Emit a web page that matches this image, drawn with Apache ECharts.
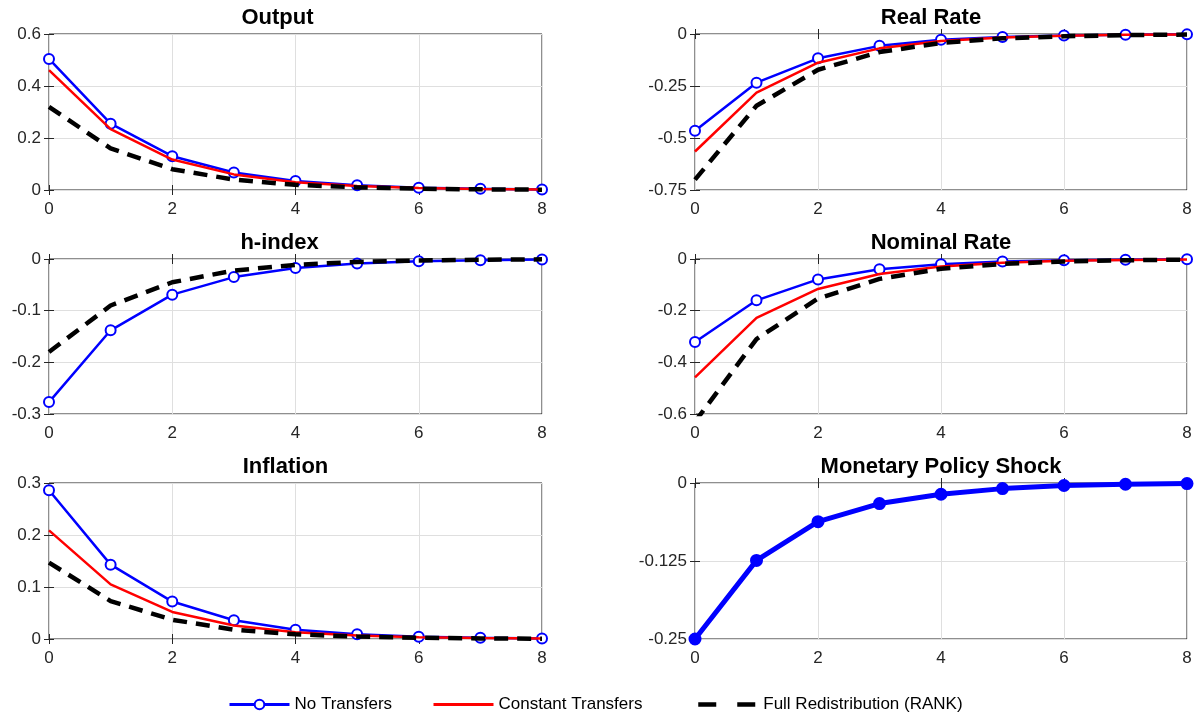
<!DOCTYPE html>
<html>
<head>
<meta charset="utf-8">
<script src="https://cdn.jsdelivr.net/npm/echarts@6/dist/echarts.min.js"></script>
<style>
html,body{margin:0;padding:0;background:#fff;}
#chart{width:1203px;height:715px;}
</style>
</head>
<body>
<div id="chart"></div>
<script>
// ---- data ----
const periods = [0, 1, 2, 3, 4, 5, 6, 7, 8];
const seriesNames = ['No Transfers', 'Constant Transfers', 'Full Redistribution (RANK)'];
const panelTitles = ['Output', 'Real Rate', 'h-index', 'Nominal Rate', 'Inflation', 'Monetary Policy Shock'];

const outputNoT   = [0.504, 0.255, 0.130, 0.067, 0.035, 0.018, 0.009, 0.005, 0.002];
const outputConst = [0.461, 0.234, 0.117, 0.060, 0.030, 0.015, 0.008, 0.004, 0.002];
const outputRANK  = [0.320, 0.160, 0.080, 0.040, 0.020, 0.010, 0.005, 0.0025, 0.0013];

const realNoT   = [-0.465, -0.234, -0.117, -0.057, -0.028, -0.014, -0.007, -0.0035, -0.0018];
const realConst = [-0.565, -0.282, -0.138, -0.069, -0.034, -0.017, -0.0085, -0.0042, -0.002];
const realRANK  = [-0.700, -0.345, -0.172, -0.087, -0.043, -0.021, -0.011, -0.0054, -0.0027];

const hNoT  = [-0.277, -0.138, -0.069, -0.035, -0.0175, -0.0088, -0.0044, -0.0022, -0.0011];
const hRANK = [-0.180, -0.090, -0.045, -0.0225, -0.0113, -0.0056, -0.0028, -0.0014, -0.0007];

const nomNoT   = [-0.321, -0.160, -0.079, -0.040, -0.020, -0.010, -0.005, -0.0025, -0.0012];
const nomConst = [-0.458, -0.228, -0.116, -0.058, -0.029, -0.0145, -0.0072, -0.0036, -0.0018];
const nomRANK  = [-0.630, -0.310, -0.153, -0.077, -0.038, -0.019, -0.0095, -0.0047, -0.0024];

const inflNoT   = [0.286, 0.143, 0.072, 0.036, 0.018, 0.009, 0.0045, 0.0023, 0.0011];
const inflConst = [0.209, 0.105, 0.052, 0.026, 0.013, 0.0066, 0.0033, 0.0017, 0.0008];
const inflRANK  = [0.147, 0.073, 0.037, 0.018, 0.009, 0.0046, 0.0023, 0.0011, 0.0006];

const shockNoT = [-0.250, -0.124, -0.062, -0.033, -0.018, -0.009, -0.004, -0.002, -0.001];

// y-axis ranges per panel: [min, max, interval]
const yRanges = [
  [0, 0.6, 0.2],
  [-0.75, 0, 0.25],
  [-0.3, 0, 0.1],
  [-0.6, 0, 0.2],
  [0, 0.3, 0.1],
  [-0.25, 0, 0.125]
];

// ---- layout ----
const FONT = '"Liberation Sans", Arial, Helvetica, sans-serif';
const INK = '#262626';
const gridBoxes = [
  {left: 49, top: 34, width: 493, height: 156},
  {left: 695, top: 34, width: 492, height: 156},
  {left: 49, top: 259, width: 493, height: 155},
  {left: 695, top: 259, width: 492, height: 155},
  {left: 49, top: 483, width: 493, height: 156},
  {left: 695, top: 483, width: 492, height: 156}
];
const titleShift = [-18, -10, -16, 0, -10, 0];

const pairs = ys => periods.map((x, i) => [x, ys[i]]);

const grids = [], xAxes = [], yAxes = [], titles = [];
gridBoxes.forEach((b, i) => {
  grids.push(Object.assign({show: true, borderColor: '#1f1f1f', borderWidth: 1, backgroundColor: '#fff'}, b));
  titles.push({
    text: panelTitles[i],
    left: b.left + b.width / 2 + titleShift[i],
    top: b.top - 27,
    textAlign: 'center',
    padding: 0,
    textStyle: {fontFamily: FONT, fontSize: 22, fontWeight: 'bold', color: '#000'}
  });
  const tick = {show: true, inside: true, length: 5, lineStyle: {color: INK, width: 1}};
  xAxes.push({
    gridIndex: i, type: 'value', min: 0, max: 8, interval: 2, position: 'bottom',
    axisLine: {show: false}, axisTick: tick,
    axisLabel: {color: INK, fontFamily: FONT, fontSize: 17, margin: 11},
    splitLine: {show: true, lineStyle: {color: '#dfdfdf', width: 1}}
  });
  xAxes.push({
    gridIndex: i, type: 'value', min: 0, max: 8, interval: 2, position: 'top',
    axisLine: {show: false}, axisTick: tick, axisLabel: {show: false}, splitLine: {show: false}
  });
  const r = yRanges[i];
  yAxes.push({
    gridIndex: i, type: 'value', min: r[0], max: r[1], interval: r[2], position: 'left',
    axisLine: {show: false}, axisTick: tick,
    axisLabel: {color: INK, fontFamily: FONT, fontSize: 17, margin: 8},
    splitLine: {show: true, lineStyle: {color: '#dfdfdf', width: 1}}
  });
  yAxes.push({
    gridIndex: i, type: 'value', min: r[0], max: r[1], interval: r[2], position: 'right',
    axisLine: {show: false}, axisTick: tick, axisLabel: {show: false}, splitLine: {show: false}
  });
});

function blue(i, ys) {
  return {
    name: seriesNames[0], type: 'line', xAxisIndex: 2 * i, yAxisIndex: 2 * i, data: pairs(ys),
    symbol: 'emptyCircle', symbolSize: 10, z: 2,
    lineStyle: {color: '#0000ff', width: 2.5},
    itemStyle: {color: '#0000ff', borderColor: '#0000ff', borderWidth: 2.5}
  };
}
function red(i, ys) {
  return {
    name: seriesNames[1], type: 'line', xAxisIndex: 2 * i, yAxisIndex: 2 * i, data: pairs(ys),
    symbol: 'none', z: 3,
    lineStyle: {color: '#ff0000', width: 2.5},
    itemStyle: {color: '#ff0000'}
  };
}
function black(i, ys) {
  return {
    name: seriesNames[2], type: 'line', xAxisIndex: 2 * i, yAxisIndex: 2 * i, data: pairs(ys),
    symbol: 'none', z: 4,
    lineStyle: {color: '#000000', width: 4.5, type: [14, 9]},
    itemStyle: {color: '#000000'}
  };
}

const series = [
  blue(0, outputNoT), red(0, outputConst), black(0, outputRANK),
  blue(1, realNoT), red(1, realConst), black(1, realRANK),
  blue(2, hNoT), black(2, hRANK),
  blue(3, nomNoT), red(3, nomConst), black(3, nomRANK),
  blue(4, inflNoT), red(4, inflConst), black(4, inflRANK),
  {
    name: seriesNames[0], type: 'line', xAxisIndex: 10, yAxisIndex: 10, data: pairs(shockNoT),
    symbol: 'circle', symbolSize: 11, z: 2,
    lineStyle: {color: '#0000ff', width: 5},
    itemStyle: {color: '#0000ff', borderColor: '#0000ff', borderWidth: 2}
  }
];

const legendPos = [228, 432, 696];
const legendExtra = [
  {lineStyle: {width: 3}},
  {itemStyle: {opacity: 0}, lineStyle: {width: 3}},
  {itemStyle: {opacity: 0}, lineStyle: {type: [18, 21], width: 4.5}}
];
const legends = seriesNames.map((n, i) => Object.assign({
  data: [n], left: legendPos[i], top: 696, itemWidth: 60, itemHeight: 12, itemGap: 0,
  padding: 0, selectedMode: false,
  textStyle: {fontFamily: FONT, fontSize: 17, color: '#000'}
}, legendExtra[i]));

const chart = echarts.init(document.getElementById('chart'), null, {renderer: 'canvas'});
chart.setOption({
  animation: false,
  backgroundColor: '#fff',
  title: titles,
  legend: legends,
  grid: grids,
  xAxis: xAxes,
  yAxis: yAxes,
  series: series
});
</script>
</body>
</html>
